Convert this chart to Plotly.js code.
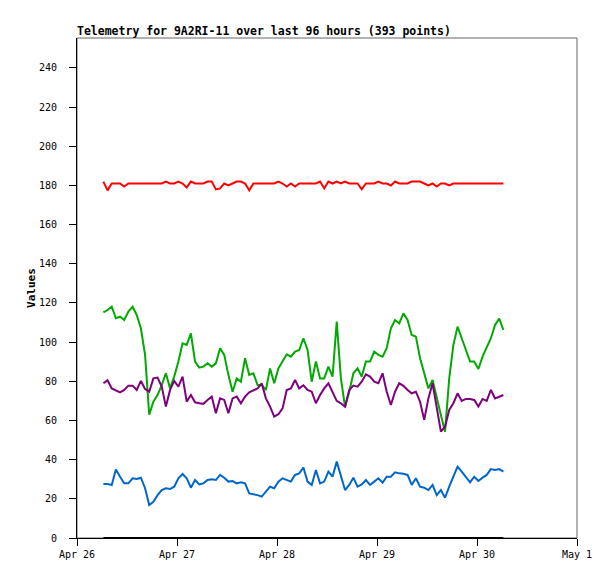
<!DOCTYPE html>
<html>
<head>
<meta charset="utf-8">
<script src="https://cdn.plot.ly/plotly-3.0.1.min.js"></script>
<style>
  body { margin: 0; background: #fff; }
  #chart { width: 615px; height: 579px; }
</style>
</head>
<body>
<div id="chart"></div>
<script>
/* global Plotly */
// one reading per hour, starting Apr 26 06:20
const startTime = "2024-04-26T06:20:00Z";
const stepHours = 1;

const redValues = [
  182, 177.5, 181, 181, 181, 179.5, 181, 181, 181, 181,
  181, 181, 181, 181, 181, 182, 181, 181, 182, 181,
  179, 182, 181, 181, 181, 182, 182, 178, 178.5, 181,
  180, 181, 182, 182, 181, 177.5, 181, 181, 181, 181,
  181, 181, 182, 181, 179.5, 181, 179.5, 181, 181, 181,
  181, 181, 182, 178.5, 182, 181, 182, 181, 182, 181,
  181, 181, 178, 181, 181, 181, 182, 181, 181, 180,
  182, 181, 181, 181, 182, 182, 182, 181, 180, 181,
  179.5, 181, 181, 180, 181, 181, 181, 181, 181, 181,
  181, 181, 181, 181, 181, 181, 181,
];

const greenValues = [
  115.2, 116.4, 118.1, 112.2, 113.0, 111.3, 115.6, 118.1, 113.9, 107.1,
  93.5, 63, 69.6, 73.0, 78.1, 84.1, 76.4, 82.4, 90.1, 99.4,
  98.6, 104.5, 90.1, 87.0, 87.5, 89.2, 87.5, 89.2, 96.9, 93.5,
  83.3, 74.7, 81.5, 79.8, 91.8, 83.3, 84.1, 78.1, 78.1, 75.6,
  86.6, 79.0, 86.6, 90.1, 93.8, 92.6, 95.2, 96.0, 102, 96.0,
  79.8, 90.1, 81.5, 81.5, 87.5, 82.4, 110.5, 81.5, 67, 74.7,
  84.1, 86.6, 82.4, 90.1, 90.1, 95.2, 93.5, 92.6, 96.9, 107.1,
  111.3, 109.6, 114.7, 111.3, 103.7, 102.8, 91.8, 84.1, 76.4, 80.7,
  71.3, 62.8, 54.3, 81.5, 98.6, 107.9, 102.0, 96.0, 90.1, 90.1,
  86.3, 92.6, 97.7, 102.0, 108.8, 112, 106.2,
];

const purpleValues = [
  79.0, 80.5, 76.4, 75.6, 74.4, 75.6, 77.8, 77.8, 75.6, 80.2,
  76.1, 74.7, 81.5, 81.9, 77.3, 67.1, 75.6, 80.2, 77.3, 82.4,
  69.6, 73.0, 69.3, 68.8, 68.5, 70.5, 72.2, 63.7, 71.3, 70.5,
  63.7, 71.3, 72.2, 68.8, 72.2, 74.4, 75.2, 76.4, 79.0, 71.3,
  67.1, 62.0, 63.2, 66.2, 75.6, 76.4, 80.7, 76.4, 78, 75.6,
  74.7, 68.8, 73.0, 76.4, 79.0, 74.7, 70.0, 68.8, 67, 75.6,
  77.8, 77.3, 79.8, 83.6, 82.4, 79.8, 79.0, 84.1, 74.7, 67.9,
  74.7, 79.0, 77.7, 75.6, 73.9, 74.7, 69.6, 60.3, 71.3, 79,
  66.2, 54.3, 56.8, 65.4, 68.8, 73.9, 70.0, 71.0, 71.0, 70.5,
  67.1, 71.0, 70.0, 75.6, 71.3, 72.2, 73.0,
];

const blueValues = [
  27.6, 27.6, 27.1, 35, 31.3, 27.9, 27.9, 30.5, 30.1, 30.8,
  25.4, 16.8, 18.5, 21.9, 24.5, 25.4, 25.0, 26.2, 30.5, 32.7,
  30.5, 25.7, 29.6, 27.4, 27.9, 29.6, 30.0, 29.6, 32.2, 30.8,
  28.8, 29.1, 27.9, 28.4, 27.9, 22.8, 22.3, 21.9, 21.1, 23.7,
  26.2, 25.4, 28.8, 30.5, 29.6, 28.8, 32.2, 33.0, 36, 28.8,
  27.1, 34.7, 27.9, 28.8, 33.9, 31.3, 39.0, 31.3, 24.5, 27.1,
  30.8, 26.2, 27.4, 29.6, 27.1, 28.8, 30.5, 28.3, 31.3, 31.3,
  33.5, 33.0, 32.8, 32.2, 27.1, 30.5, 26.2, 25.7, 24.5, 27.1,
  21.9, 24.5, 20.6, 26.2, 31.3, 36.4, 33.9, 31.3, 28.4, 31.3,
  29.1, 30.8, 32.2, 35.2, 34.7, 35.2, 33.9,
];

const blackValues = [
  0, 0, 0, 0, 0, 0, 0, 0, 0, 0,
  0, 0, 0, 0, 0, 0, 0, 0, 0, 0,
  0, 0, 0, 0, 0, 0, 0, 0, 0, 0,
  0, 0, 0, 0, 0, 0, 0, 0, 0, 0,
  0, 0, 0, 0, 0, 0, 0, 0, 0, 0,
  0, 0, 0, 0, 0, 0, 0, 0, 0, 0,
  0, 0, 0, 0, 0, 0, 0, 0, 0, 0,
  0, 0, 0, 0, 0, 0, 0, 0, 0, 0,
  0, 0, 0, 0, 0, 0, 0, 0, 0, 0,
  0, 0, 0, 0, 0, 0, 0,
];

const xTickDates = ["2024-04-26", "2024-04-27", "2024-04-28", "2024-04-29", "2024-04-30", "2024-05-01"];
const xTickLabels = ["Apr 26", "Apr 27", "Apr 28", "Apr 29", "Apr 30", "May 1"];
const yTicks = [0, 20, 40, 60, 80, 100, 120, 140, 160, 180, 200, 220, 240];

const mono = "DejaVu Sans Mono, monospace";

function getTimes(n) {
  const t0 = new Date(startTime).getTime();
  const out = [];
  for (let i = 0; i < n; i++) {
    out.push(new Date(t0 + i * stepHours * 3600000).toISOString().slice(0, 19).replace("T", " "));
  }
  return out;
}

function getTrace(values, color) {
  return {
    x: getTimes(values.length),
    y: values,
    type: "scatter",
    mode: "lines",
    line: { color, width: 2 },
    hoverinfo: "skip",
  };
}

const plotData = [
  getTrace(redValues, "#ff0000"),
  getTrace(greenValues, "#00aa00"),
  getTrace(purpleValues, "#7f007f"),
  getTrace(blueValues, "#0066cc"),
  getTrace(blackValues, "#000000"),
];

const layout = {
  width: 615,
  height: 579,
  paper_bgcolor: "#ffffff",
  plot_bgcolor: "#ffffff",
  showlegend: false,
  margin: { l: 77, r: 38, t: 38, b: 41, pad: 0 },
  font: { family: mono, size: 10, color: "#000" },
  title: {
    text: "<b>Telemetry for 9A2RI-11 over last 96 hours (393 points)</b>",
    font: { family: mono, size: 11.5, color: "#000" },
    x: 77 / 615,
    xanchor: "left",
    y: 1 - 31 / 579,
    yanchor: "middle",
  },
  xaxis: {
    type: "date",
    range: ["2024-04-26 00:00", "2024-05-01 00:00"],
    tickvals: xTickDates,
    ticktext: xTickLabels,
    ticks: "outside",
    ticklen: 7,
    tickcolor: "#000",
    showline: true,
    linecolor: "#000",
    linewidth: 1,
    showgrid: false,
    zeroline: false,
    fixedrange: true,
    tickfont: { family: mono, size: 10 },
  },
  yaxis: {
    range: [0, 255.3],
    tickvals: yTicks,
    ticks: "outside",
    ticklen: 7,
    tickcolor: "#000",
    showline: true,
    linecolor: "#000",
    linewidth: 1,
    showgrid: false,
    zeroline: false,
    fixedrange: true,
    ticklabelstandoff: 10,
    tickfont: { family: mono, size: 10 },
    title: {
      text: "<b>Values</b>",
      font: { family: mono, size: 11, color: "#000" },
      standoff: 1,
    },
  },
  shapes: [
    {
      type: "rect",
      xref: "paper",
      yref: "paper",
      x0: 0,
      y0: 0,
      x1: 1,
      y1: 1,
      layer: "below",
      line: { color: "#666666", width: 1 },
    },
  ],
};

Plotly.newPlot(document.getElementById("chart"), plotData, layout, {
  staticPlot: true,
  displayModeBar: false,
});
</script>
</body>
</html>
